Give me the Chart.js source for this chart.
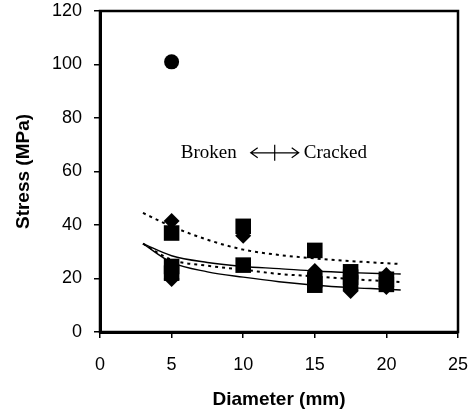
<!DOCTYPE html>
<html>
<head>
<meta charset="utf-8">
<script src="https://cdn.jsdelivr.net/npm/chart.js@4/dist/chart.umd.min.js"></script>
<style>
  html, body { margin: 0; padding: 0; background: #fff; }
  #wrap { width: 476px; height: 416px; position: relative; }
</style>
</head>
<body>
<div id="wrap"><canvas id="stressChart"></canvas></div>
<script>
// fitted curves (diameter in mm)
const curveD = [3, 5, 7.5, 10, 12.5, 15, 17.5, 20, 21];
const upperDotted = [44.5, 39.5, 34.5, 30.8, 28.8, 27.5, 26.5, 25.7, 25.4];
const upperSolid = [33, 28.5, 26, 24.5, 23.7, 22.8, 22.2, 21.8, 21.7];
const lowerDotted = [33, 27, 24.8, 23.3, 21.7, 20.8, 19.8, 19, 18.7];
const lowerSolid = [33, 26, 22.5, 20.5, 18.8, 17.5, 16.6, 16, 15.7];

// measured points
const squareD = [5, 5, 5, 10, 10, 15, 15, 15, 17.5, 17.5, 17.5, 20, 20];
const squareS = [37, 24.5, 22, 39.5, 25, 30.5, 19.5, 17.5, 22.5, 20.5, 18.3, 19.7, 17.8];
const diamondD = [5, 5, 10, 15, 17.5, 20, 20];
const diamondS = [41.5, 19.8, 36, 22.8, 15.3, 21.3, 16.8];
const circleD = [5];
const circleS = [101];

const xTicks = [0, 5, 10, 15, 20, 25];
const yTicks = [0, 20, 40, 60, 80, 100, 120];

const pts = (xs, ys) => xs.map((x, i) => ({ x: x, y: ys[i] }));

const lineSet = (vals, dashed) => ({
  type: 'line',
  data: pts(curveD, vals),
  borderColor: '#000',
  borderWidth: dashed ? 2 : 1.4,
  borderDash: dashed ? [3, 4] : [],
  pointRadius: 0,
  fill: false,
  tension: 0.4,
  cubicInterpolationMode: 'monotone',
  order: 2
});

const markerSet = (xs, ys, style, r) => ({
  type: 'scatter',
  data: pts(xs, ys),
  pointStyle: style,
  pointRadius: r,
  backgroundColor: '#000',
  borderColor: '#000',
  borderWidth: 0,
  order: 1
});

// frame + "Broken <-|-> Cracked" note
const extras = {
  id: 'extras',
  afterDatasetsDraw(chart) {
    const { ctx, chartArea: a, scales } = chart;
    ctx.save();
    ctx.strokeStyle = '#000';
    ctx.lineWidth = 2.5;
    ctx.strokeRect(a.left, a.top, a.right - a.left, a.bottom - a.top);

    const cx = scales.x.getPixelForValue(12.2);
    const cy = scales.y.getPixelForValue(67);
    ctx.lineWidth = 1.2;
    ctx.beginPath();
    ctx.moveTo(cx - 24, cy); ctx.lineTo(cx + 24, cy);
    ctx.moveTo(cx, cy - 8); ctx.lineTo(cx, cy + 8);
    ctx.moveTo(cx - 17, cy - 5); ctx.lineTo(cx - 24, cy); ctx.lineTo(cx - 17, cy + 5);
    ctx.moveTo(cx + 17, cy - 5); ctx.lineTo(cx + 24, cy); ctx.lineTo(cx + 17, cy + 5);
    ctx.stroke();
    ctx.fillStyle = '#000';
    ctx.font = '19px "Liberation Serif"';
    ctx.textBaseline = 'middle';
    ctx.textAlign = 'right';
    ctx.fillText('Broken', cx - 38, cy);
    ctx.textAlign = 'left';
    ctx.fillText('Cracked', cx + 29, cy);
    ctx.restore();
  }
};

new Chart(document.getElementById('stressChart'), {
  type: 'scatter',
  data: {
    datasets: [
      lineSet(upperDotted, true),
      lineSet(upperSolid, false),
      lineSet(lowerDotted, true),
      lineSet(lowerSolid, false),
      markerSet(squareD, squareS, 'rect', 11),
      markerSet(diamondD, diamondS, 'rectRot', 8),
      markerSet(circleD, circleS, 'circle', 7.5)
    ]
  },
  options: {
    responsive: true,
    maintainAspectRatio: false,
    animation: false,
    layout: { padding: { top: 11, right: 18, left: 0, bottom: 0 } },
    plugins: { legend: { display: false }, tooltip: { enabled: false } },
    scales: {
      x: {
        type: 'linear',
        min: 0, max: 25,
        afterFit: s => { s.height = 84; s.paddingLeft = 0; s.paddingRight = 0; },
        afterBuildTicks: s => { s.ticks = xTicks.map(v => ({ value: v })); },
        grid: { drawOnChartArea: false, drawTicks: true, tickLength: 6, color: '#000', lineWidth: 1.5 },
        border: { color: '#000', width: 3 },
        ticks: { color: '#000', padding: 16, maxRotation: 0, font: { family: 'Liberation Sans', size: 18 } },
        title: { display: true, text: 'Diameter (mm)', color: '#000', padding: { top: 0, bottom: 5 },
                 font: { family: 'Liberation Sans', size: 19, weight: 'bold' } }
      },
      y: {
        type: 'linear',
        min: 0, max: 120,
        afterFit: s => { s.width = 100; s.paddingTop = 0; s.paddingBottom = 0; },
        afterBuildTicks: s => { s.ticks = yTicks.map(v => ({ value: v })); },
        grid: { drawOnChartArea: false, drawTicks: true, tickLength: 6, color: '#000', lineWidth: 1.5 },
        border: { color: '#000', width: 3 },
        ticks: { color: '#000', padding: 12, font: { family: 'Liberation Sans', size: 18 } },
        title: { display: true, text: 'Stress (MPa)', color: '#000', padding: { top: 12, bottom: 0 },
                 font: { family: 'Liberation Sans', size: 19, weight: 'bold' } }
      }
    }
  },
  plugins: [extras]
});
</script>
</body>
</html>
